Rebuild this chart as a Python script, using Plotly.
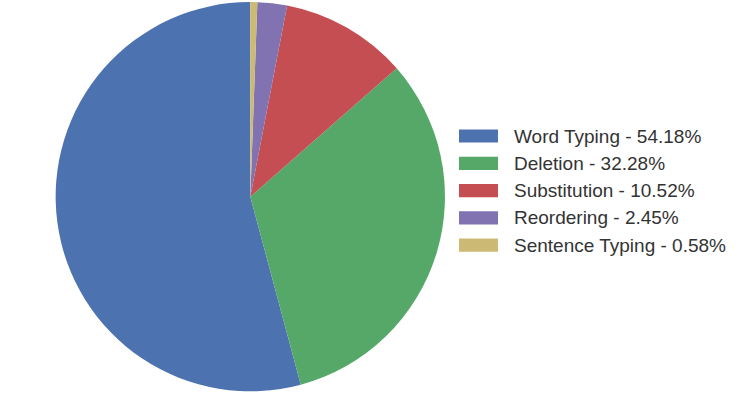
import plotly.graph_objects as go

labels = ["Word Typing", "Deletion", "Substitution", "Reordering", "Sentence Typing"]
values = [54.18, 32.28, 10.52, 2.45, 0.58]
colors = ["#4C72B0", "#55A868", "#C44E52", "#8172B2", "#CCB974"]

W, H = 747, 395

# first slice ends at 12 o'clock, running counterclockwise from there
rotation = 360 * (1 - values[0] / sum(values))

fig = go.Figure()
fig.add_trace(go.Pie(
    labels=labels, values=values, sort=False, direction="counterclockwise",
    rotation=rotation, textinfo="none", hoverinfo="label+percent",
    marker=dict(colors=colors, line=dict(width=0)),
    domain=dict(x=[55.6 / W, 445.0 / W], y=[1 - 391.3 / H, 1 - 2.0 / H]),
    showlegend=False,
))

# Custom legend with wide rectangles
x0, x1 = 459, 498
y_start, step, hh = 136, 27.3, 6.6
shapes, annotations = [], []
for i, (lab, val, col) in enumerate(zip(labels, values, colors)):
    yc = y_start + i * step
    shapes.append(dict(type="rect", xref="paper", yref="paper",
                       x0=x0 / W, x1=x1 / W, y0=1 - (yc + hh) / H, y1=1 - (yc - hh) / H,
                       fillcolor=col, line=dict(width=0)))
    annotations.append(dict(xref="paper", yref="paper", x=512 / W, y=1 - yc / H,
                            xanchor="left", yanchor="middle", showarrow=False,
                            text=f"{lab} - {val:.2f}%",
                            font=dict(family="Liberation Sans, Arial", size=19, color="#333333")))

fig.update_layout(width=W, height=H, margin=dict(l=0, r=0, t=0, b=0),
                  paper_bgcolor="white", plot_bgcolor="white",
                  shapes=shapes, annotations=annotations)

fig.write_html("out.html", config={"displayModeBar": False},
               post_script="document.body.style.margin='0';")
